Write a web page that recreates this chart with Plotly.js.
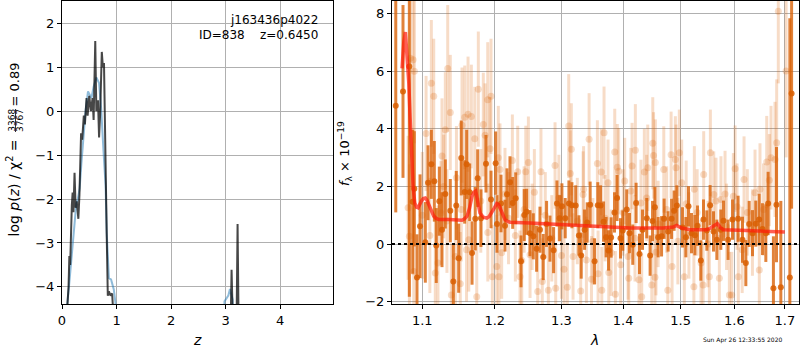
<!DOCTYPE html>
<html><head><meta charset="utf-8">
<script src="https://cdn.plot.ly/plotly-3.0.1.min.js"></script>
<style>html,body{margin:0;padding:0;background:#fff}#chart{width:800px;height:350px}</style>
</head><body><div id="chart"></div>
<script>
// ---- left panel: log p(z) ----
const zBlue  = [0.09,0.098,0.129,0.15,0.172,0.214,0.263,0.29,0.324,0.355,0.385,0.434,0.477,0.507,0.54,0.58,0.63,0.68,0.72,0.76,0.80,0.82,0.86,0.88,0.90,0.95,0.98,1.0,2.95,2.98,3.05,3.08,3.13,3.16,3.2];
const lpBlue = [-6,-4.38,-3.98,-3.7,-3.4,-2.77,-2.1,-2.0,-1.75,-1.2,-0.65,0.03,0.45,0.37,0.3,0.56,0.77,0.64,0.03,-0.88,-1.7,-2.77,-3.8,-3.82,-3.83,-4.06,-4.36,-6,-8,-4.33,-4.2,-4.05,-4.29,-6,-8];
const zDark  = [0.09,0.10,0.12,0.135,0.15,0.165,0.18,0.195,0.21,0.23,0.25,0.27,0.30,0.32,0.35,0.37,0.40,0.42,0.45,0.47,0.50,0.53,0.56,0.58,0.61,0.63,0.66,0.68,0.70,0.73,0.75,0.77,0.79,0.82,0.84,0.86,0.89,0.92,0.94,1.0,3.05,3.09,3.11,3.125,3.14,3.19,3.205,3.22,3.235,3.25,3.3];
const lpDark = [-6,-4.4,-4.0,-3.3,-3.5,-2.3,-2.15,-1.85,-2.3,-1.4,-2.2,-2.05,-2.45,-1.9,-0.5,-0.65,-0.1,-0.3,0.3,-0.1,0.35,0.0,0.3,-0.2,1.6,0.0,0.25,-0.6,-0.05,1.35,1.0,1.1,-1.0,-2.8,-4.2,-4.1,-4.2,-4.15,-4.6,-8,-8,-4.4,-3.61,-4.4,-8,-8,-4.4,-2.57,-4.4,-8,-8];
const zTicks  = [0,1,2,3,4];
const lpTicks = [-4,-3,-2,-1,0,1,2];

// ---- right panel: spectrum ----
const lamDark  = [1.0655,1.0748,1.0830,1.0874,1.0895,1.0930,1.0970,1.1040,1.1076,1.1120,1.1160,1.1186,1.1227,1.1263,1.1308,1.1376,1.1417,1.1458,1.1491,1.1527,1.1574,1.1602,1.1644,1.1677,1.1722,1.1756,1.1803,1.1874,1.1946,1.2013,1.2032,1.2090,1.2148,1.2177,1.2221,1.2261,1.2305,1.2384,1.2432,1.2468,1.2518,1.2568,1.2618,1.2669,1.2719,1.2770,1.2822,1.2878,1.2930,1.2971,1.3007,1.3059,1.3117,1.3164,1.3224,1.3275,1.3312,1.3366,1.3408,1.3456,1.3527,1.3580,1.3625,1.3674,1.3716,1.3756,1.3799,1.3855,1.3898,1.3955,1.3993,1.4060,1.4107,1.4162,1.4219,1.4277,1.4329,1.4402,1.4460,1.4502,1.4543,1.4600,1.4660,1.4705,1.4776,1.4837,1.4883,1.4932,1.5034,1.5094,1.5142,1.5197,1.5258,1.5307,1.5368,1.5417,1.5479,1.5540,1.5603,1.5666,1.5741,1.5792,1.5879,1.5963,1.6071,1.6156,1.6221,1.6286,1.6351,1.6416,1.6482,1.6548,1.6615,1.6661,1.6767,1.6829,1.6917,1.7101,1.7137];
const fluxDark = [4.8,5.3,6.17,1.47,1.92,-1.16,0.62,0.06,2.13,2.77,2.18,-0.05,1.49,0.50,1.74,1.16,-1.30,1.34,-0.49,2.99,1.81,2.77,1.80,-0.31,0.88,2.29,0.90,2.79,1.55,2.81,0.70,1.41,0.64,1.73,2.15,1.43,1.59,-0.60,1.01,1.12,0.38,0.27,-0.16,0.50,-0.45,0.70,0.19,-0.21,1.41,0.90,1.31,0.90,1.41,1.35,1.34,0.30,-0.40,0.50,0.75,1.37,-0.60,1.35,1.34,0.78,0.24,-0.22,0.23,1.10,1.60,0.20,0.47,1.20,0.38,-0.02,1.43,-0.34,0.50,0.90,-0.40,0.80,1.28,0.24,0.27,0.88,0.44,0.88,1.16,1.34,0.58,0.24,1.31,0.38,0.31,0.64,-0.57,0.85,0.47,1.35,0.44,0.15,0.50,0.81,0.15,0.85,0.88,0.15,-0.66,0.70,0.38,0.71,0.85,0.52,0.38,1.41,-1.53,1.37,-1.50,-1.16,5.23];
const errDark  = [3.7,3.0,8.0,2.5,2.0,1.5,1.8,1.4,1.3,1.2,1.4,1.3,1.2,1.3,1.2,1.1,1.3,1.2,1.2,1.3,1.1,1.2,1.0,1.1,1.1,1.0,1.0,1.0,1.0,1.1,1.0,1.0,0.9,0.9,0.9,0.9,0.9,0.9,0.9,0.8,0.8,0.8,0.8,0.8,0.8,0.8,0.8,0.8,0.8,0.8,0.8,0.7,0.8,0.8,0.7,0.7,0.8,0.7,0.7,0.8,0.8,0.8,0.7,0.7,0.7,0.7,0.7,0.7,0.8,0.7,0.7,0.7,0.7,0.7,0.7,0.7,0.7,0.7,0.7,0.7,0.7,0.7,0.7,0.7,0.7,0.7,0.7,0.7,0.7,0.7,0.7,0.7,0.7,0.7,0.7,0.7,0.7,0.7,0.7,0.7,0.7,0.7,0.7,0.7,0.8,0.8,0.8,0.8,0.8,0.8,0.9,0.9,1.0,1.1,1.8,2.0,3.0,9.0,4.0];

const lamFaint  = [1.0814,1.0831,1.0844,1.0879,1.0888,1.0896,1.1000,1.1050,1.1100,1.1120,1.1152,1.1173,1.1209,1.1250,1.1263,1.1286,1.1308,1.1330,1.1341,1.1376,1.1390,1.1445,1.1460,1.1513,1.1527,1.1537,1.1575,1.1600,1.1621,1.1631,1.1667,1.1715,1.1743,1.1765,1.1800,1.1836,1.1861,1.1899,1.1900,1.1932,1.1946,1.1965,1.2028,1.2051,1.2060,1.2075,1.2100,1.2148,1.2200,1.2256,1.2300,1.2335,1.2369,1.2395,1.2430,1.2455,1.2494,1.2519,1.2550,1.2584,1.2635,1.2684,1.2704,1.2750,1.2797,1.2850,1.2900,1.2911,1.2960,1.3000,1.3040,1.3092,1.3114,1.3139,1.3155,1.3182,1.3250,1.3304,1.3342,1.3350,1.3395,1.3439,1.3477,1.3500,1.3573,1.3584,1.3637,1.3645,1.3682,1.3700,1.3748,1.3760,1.3800,1.3859,1.3870,1.3902,1.3925,1.3958,1.4000,1.4026,1.4082,1.4094,1.4128,1.4150,1.4200,1.4206,1.4268,1.4302,1.4315,1.4360,1.4400,1.4419,1.4489,1.4506,1.4520,1.4545,1.4551,1.4563,1.4600,1.4699,1.4750,1.4770,1.4829,1.4846,1.4905,1.4917,1.4950,1.4976,1.5019,1.5066,1.5100,1.5150,1.5240,1.5248,1.5300,1.5371,1.5410,1.5421,1.5500,1.5526,1.5545,1.5608,1.5650,1.5713,1.5744,1.5821,1.5850,1.5903,1.5949,1.5980,1.6013,1.6050,1.6075,1.6150,1.6186,1.6250,1.6350,1.6401,1.6485,1.6499,1.6570,1.6633,1.6685,1.6719,1.6799,1.6833,1.6866,1.7024];
const fluxFaint = [1.26,0.27,6.45,6.40,-0.95,6.00,1.0,3.84,0.3,5.58,5.13,-1.00,-0.66,1.08,3.06,2.00,3.97,0.8,6.10,4.57,-1.77,-0.43,2.3,-1.38,1.20,4.13,4.40,-0.2,4.51,0.15,4.43,3.66,-1.83,5.38,1.5,4.15,3.78,5.01,0.4,3.31,5.13,-1.13,-0.78,3.00,-1.13,2.59,-0.3,1.74,0.9,2.90,0.3,2.51,-1.13,-0.57,1.2,2.51,2.83,-0.37,0.6,1.80,-1.65,2.51,-1.30,1.0,-1.60,0.2,2.73,-1.53,1.6,-0.4,-0.87,-1.50,4.10,2.45,3.29,-0.43,0.8,-1.63,1.72,1.9,-0.55,3.64,-1.22,0.1,2.80,-1.03,2.50,-1.60,3.87,0.9,2.13,-0.99,-0.3,3.20,-1.74,2.67,2.53,-0.72,1.1,2.19,-0.43,-1.19,1.84,2.71,0.2,3.26,-1.24,1.43,-1.83,2.50,1.6,2.65,-1.42,3.50,3.08,-1.15,2.83,-0.28,0.7,2.59,1.2,-1.60,3.10,-0.78,2.94,2.65,0.1,3.17,2.13,-1.13,1.4,0.3,-1.48,1.90,1.1,-0.66,-1.42,2.42,0.0,-1.13,3.17,1.72,1.5,-1.19,1.55,1.74,0.6,-1.77,-1.77,1.66,2.62,1.3,-1.13,-0.2,2.24,1.1,0.4,1.78,-0.90,1.90,1.2,2.85,2.22,3.00,2.94,3.52,8.08,6.01];
const errFaint  = [2.5,2.5,2.5,2.5,2.2,2.5,2.2,2.0,2.0,2.2,2.0,2.0,2.0,1.8,2.0,1.8,2.0,1.8,2.2,2.0,1.8,1.8,1.8,1.8,1.8,2.0,1.8,1.8,2.0,1.8,1.8,1.8,1.8,2.0,1.8,1.8,1.8,2.0,1.7,1.8,2.0,1.8,1.8,1.8,1.8,1.6,1.6,1.6,1.6,1.6,1.6,1.6,1.6,1.6,1.5,1.6,1.6,1.5,1.5,1.5,1.5,1.5,1.5,1.5,1.5,1.5,1.5,1.5,1.5,1.5,1.5,1.5,1.8,1.5,1.6,1.5,1.5,1.5,1.5,1.5,1.5,1.6,1.5,1.5,1.5,1.5,1.5,1.5,1.6,1.5,1.5,1.5,1.5,1.5,1.5,1.5,1.5,1.5,1.5,1.5,1.5,1.5,1.5,1.5,1.5,1.6,1.5,1.5,1.5,1.5,1.5,1.5,1.5,1.6,1.5,1.5,1.5,1.5,1.5,1.5,1.5,1.5,1.5,1.5,1.5,1.5,1.5,1.5,1.5,1.5,1.5,1.5,1.5,1.5,1.5,1.5,1.5,1.5,1.5,1.5,1.5,1.5,1.5,1.5,1.5,1.5,1.5,1.5,1.5,1.5,1.5,1.5,1.5,1.5,1.5,1.5,1.5,1.5,1.6,1.6,1.6,1.6,1.6,1.8,2.0,2.2,2.5,3.0,4.0,4.0];

const lamModel  = [1.0736,1.0758,1.0779,1.0800,1.0823,1.0840,1.0857,1.0879,1.0901,1.0922,1.0944,1.0965,1.0987,1.1013,1.1040,1.1062,1.1085,1.1118,1.1152,1.1185,1.1219,1.1355,1.1537,1.1572,1.1607,1.1642,1.1677,1.1703,1.1729,1.1759,1.1789,1.1837,1.1885,1.1920,1.1956,1.1992,1.2028,1.2052,1.2075,1.2112,1.2148,1.2185,1.2221,1.2519,1.3029,1.3562,1.4116,1.4688,1.4866,1.4927,1.5019,1.5170,1.5477,1.5540,1.5601,1.5640,1.5676,1.5730,1.5789,1.6239,1.6998];
const fluxModel = [6.1,7.0,7.36,6.6,5.6,4.4,3.3,2.0,1.43,1.28,1.26,1.38,1.49,1.58,1.6,1.52,1.37,1.12,0.97,0.89,0.85,0.85,0.83,0.88,0.97,1.25,1.66,1.80,1.84,1.45,1.08,0.93,0.9,0.96,1.08,1.25,1.41,1.38,1.26,1.02,0.85,0.79,0.76,0.73,0.67,0.62,0.56,0.56,0.59,0.65,0.56,0.50,0.50,0.55,0.62,0.68,0.71,0.58,0.50,0.47,0.42];
const lamTicks  = [1.1,1.2,1.3,1.4,1.5,1.6,1.7];
const fluxTicks = [-2,0,2,4,6,8];

const FONT = 'DejaVu Sans, sans-serif';
const ORANGE = 'rgba(217,95,2,';

const traces = [
  {x:zBlue, y:lpBlue, xaxis:'x', yaxis:'y', mode:'lines', line:{color:'rgba(31,119,180,0.5)', width:2}, hoverinfo:'skip'},
  {x:zDark, y:lpDark, xaxis:'x', yaxis:'y', mode:'lines', line:{color:'rgba(0,0,0,0.72)', width:2}, hoverinfo:'skip'},
  {x:lamFaint, y:fluxFaint, xaxis:'x2', yaxis:'y2', mode:'markers', type:'scatter',
   marker:{color:ORANGE+'0.22)', size:7},
   error_y:{type:'data', array:errFaint, visible:true, color:ORANGE+'0.22)', thickness:3, width:0}, cliponaxis:true},
  {x:lamDark, y:fluxDark, xaxis:'x2', yaxis:'y2', mode:'markers', type:'scatter',
   marker:{color:ORANGE+'0.85)', size:6},
   error_y:{type:'data', array:errDark, visible:true, color:ORANGE+'0.78)', thickness:3, width:0}, cliponaxis:true},
  {x:lamModel, y:fluxModel, xaxis:'x2', yaxis:'y2', mode:'lines', line:{color:'rgba(255,25,10,0.7)', width:3.5}}
];

const axBase = {ticks:'outside', ticklen:4, tickwidth:1, tickcolor:'#000', showline:true, linecolor:'#000', linewidth:1,
  mirror:true, showgrid:true, gridcolor:'#b0b0b0', gridwidth:1, zeroline:false, tickfont:{family:FONT, size:13, color:'#000'}, automargin:false};
const yDom = [46/350, 349/350];

const ann = (text,x,y,opt) => Object.assign({text, x:x/800, y:1-y/350, xref:'paper', yref:'paper', showarrow:false,
  xanchor:'center', yanchor:'middle', font:{family:FONT, size:13, color:'#000'}}, opt||{});

const layout = {
  width:800, height:350, margin:{l:0,r:0,t:0,b:0}, paper_bgcolor:'#fff', plot_bgcolor:'#fff', showlegend:false,
  xaxis:Object.assign({}, axBase, {domain:[62/800, 333/800], range:[0,4.97], tickvals:zTicks, anchor:'y'}),
  yaxis:Object.assign({}, axBase, {domain:yDom, range:[-4.39,2.51], tickvals:lpTicks, anchor:'x'}),
  xaxis2:Object.assign({}, axBase, {type:'log', domain:[392/800, 799/800], range:[Math.log10(1.0607), Math.log10(1.729)],
     tickvals:lamTicks, ticktext:lamTicks.map(v=>v.toFixed(1)), anchor:'y2'}),
  yaxis2:Object.assign({}, axBase, {domain:yDom, range:[-2.08,8.44], tickvals:fluxTicks, anchor:'x2'}),
  shapes:[
    {type:'line', xref:'x2 domain', x0:0, x1:1, yref:'y2', y0:0, y1:0, line:{color:'#000', width:2, dash:'dot'}},
    {type:'line', xref:'paper', yref:'paper', x0:15.5/800, x1:15.5/800, y0:1-109/350, y1:1-132/350, line:{color:'#000', width:0.8}}
  ],
  annotations:[
    ann('j163436p4022', 320, 20, {xanchor:'right', font:{family:FONT, size:12, color:'#000'}}),
    ann('ID=838\u00a0\u00a0\u00a0\u00a0z=0.6450', 320, 35, {xanchor:'right', font:{family:FONT, size:12, color:'#000'}}),
    ann('log\u00a0<i>p</i>(<i>z</i>)\u00a0/\u00a0χ<sup>2</sup>\u00a0=', 13.5, 188, {textangle:-90, font:{family:FONT, size:14, color:'#000'}}),
    ann('3368', 11.3, 120.5, {textangle:-90, font:{family:FONT, size:9, color:'#000'}}),
    ann('3767', 19.5, 120.5, {textangle:-90, font:{family:FONT, size:9, color:'#000'}}),
    ann('=\u00a00.89', 13.5, 85, {textangle:-90, font:{family:FONT, size:13, color:'#000'}}),
    ann('<i>f</i><sub>λ</sub>\u00a0×\u00a010<sup>−19</sup>', 345, 154, {textangle:-90, font:{family:FONT, size:13, color:'#000'}}),
    ann('<i>z</i>', 197.5, 340, {font:{family:FONT, size:14, color:'#000'}}),
    ann('<i>λ</i>', 594.5, 340, {font:{family:FONT, size:14, color:'#000'}}),
    ann('Sun Apr 26 12:33:55 2020', 742, 340, {font:{family:FONT, size:6, color:'#000'}})
  ]
};

Plotly.newPlot('chart', traces, layout, {staticPlot:true, displayModeBar:false});
</script></body></html>
